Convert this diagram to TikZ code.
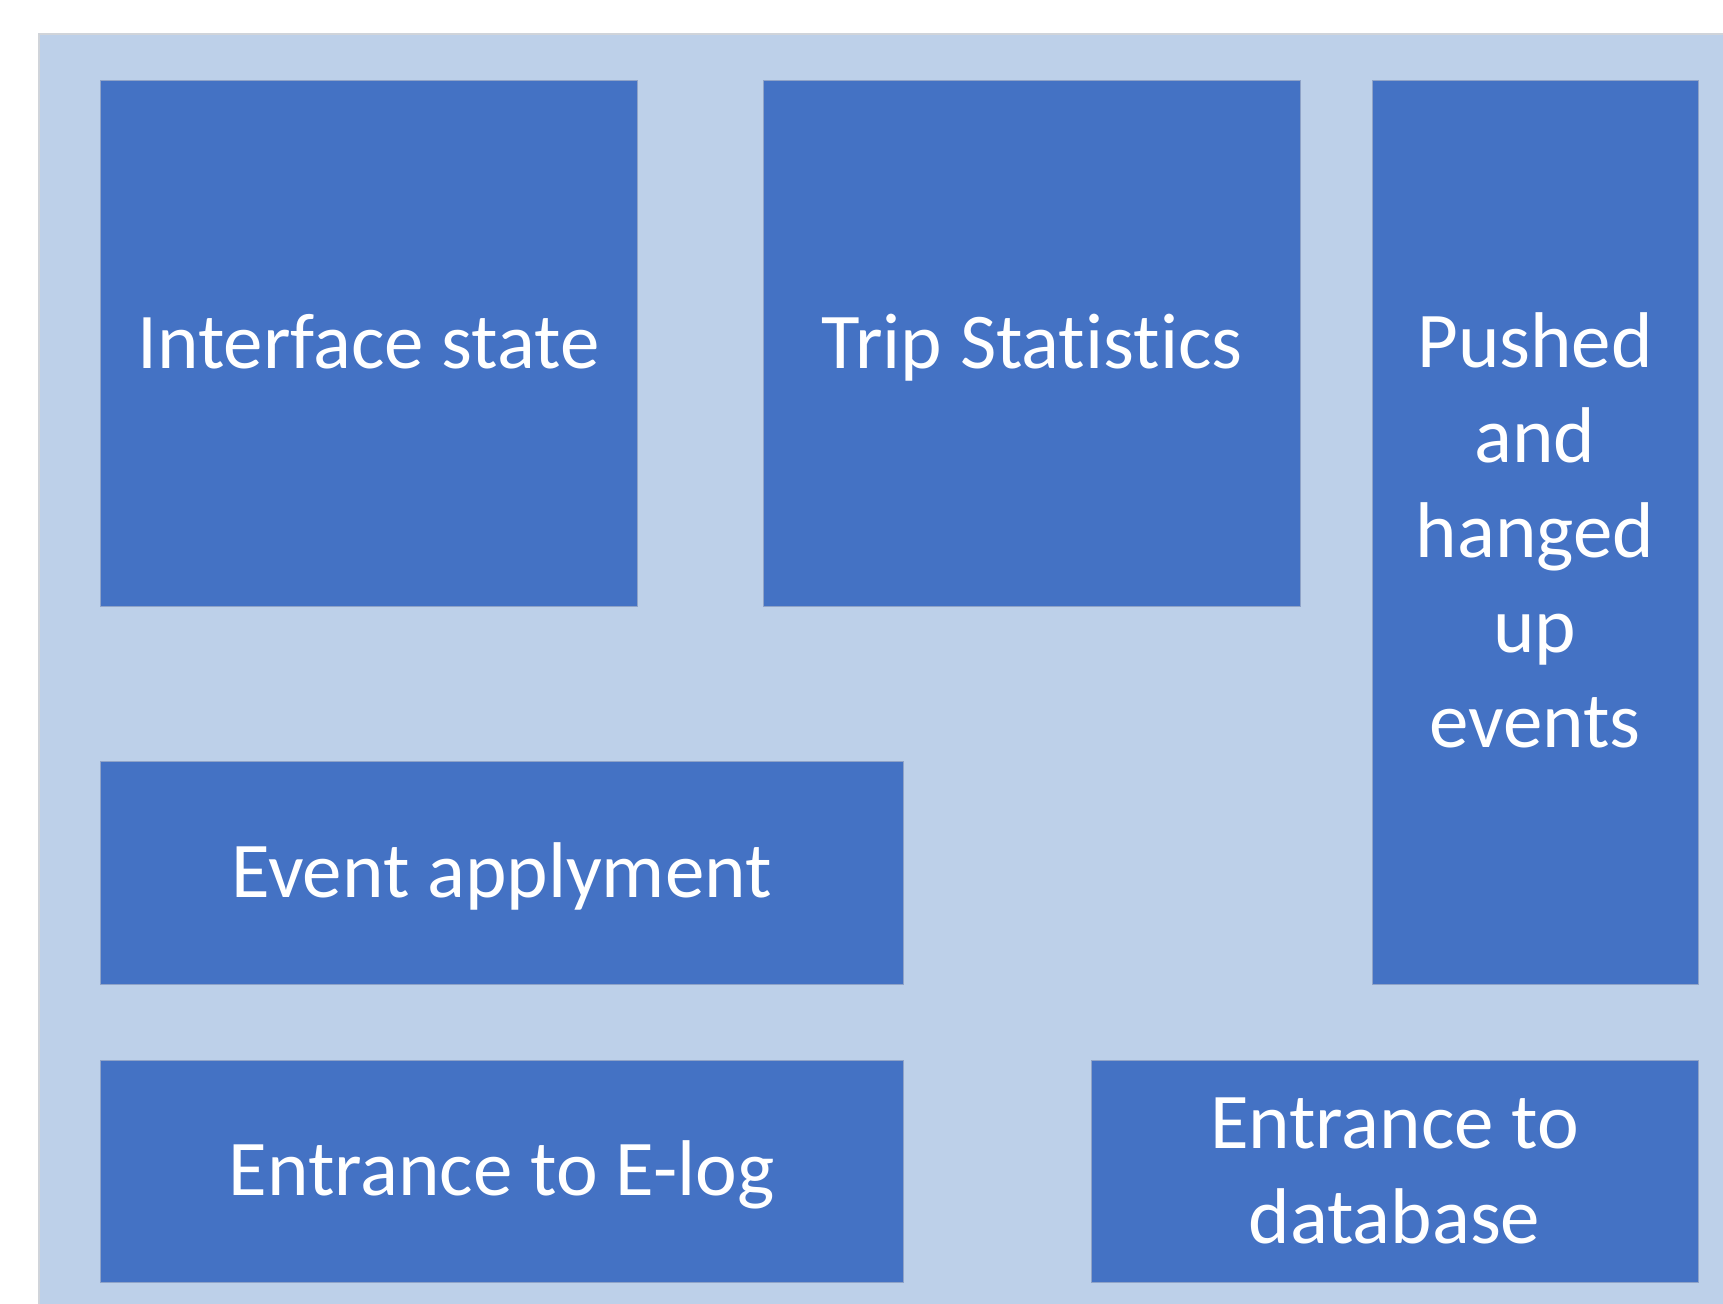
\documentclass[tikz,border=0pt]{standalone}
\usepackage{fontspec}
\setmainfont{Carlito}[Ligatures=NoCommon]
\definecolor{bgblue}{HTML}{BDD0E9}
\definecolor{boxblue}{HTML}{4472C4}
\definecolor{boxline}{HTML}{8FA3C8}
\definecolor{bgline}{HTML}{D0D4DA}
\newcommand{\lnstrut}{\rule[-12pt]{0pt}{74pt}}
\begin{document}
\begin{tikzpicture}[x=1pt,y=-1pt,
  box/.style={fill=boxblue, draw=boxline, line width=1pt, inner sep=0pt, outer sep=0pt,
    text=white, align=center, font=\fontsize{79}{95}\selectfont},
  bgpanel/.style={fill=bgblue, draw=bgline, line width=1.5pt}]
\useasboundingbox (0,0) rectangle (1723,1303);
\fill[white] (0,0) rectangle (1723,1303);
\path[bgpanel] (39,34) rectangle (1730,1310);
\node[box, minimum width=537pt, minimum height=525pt] (iface) at (368.5,343.5) {\lnstrut Interface state};
\node[box, minimum width=537pt, minimum height=525pt] (trip) at (1032,343.5) {\lnstrut Trip Statistics};
\node[box, minimum width=326pt, minimum height=903pt] (pushed) at (1535,532.5)
  {\lnstrut Pushed\\\lnstrut and\\\lnstrut hanged\\\lnstrut up\\\lnstrut events};
\node[box, minimum width=803pt, minimum height=223pt] (event) at (501.5,872.5) {\lnstrut Event applyment};
\node[box, minimum width=803pt, minimum height=222pt] (elog) at (501.5,1171) {\lnstrut Entrance to E-log};
\node[box, minimum width=607pt, minimum height=222pt] (db) at (1394.5,1171)
  {\lnstrut Entrance to\\\lnstrut database};
\end{tikzpicture}
\end{document}
